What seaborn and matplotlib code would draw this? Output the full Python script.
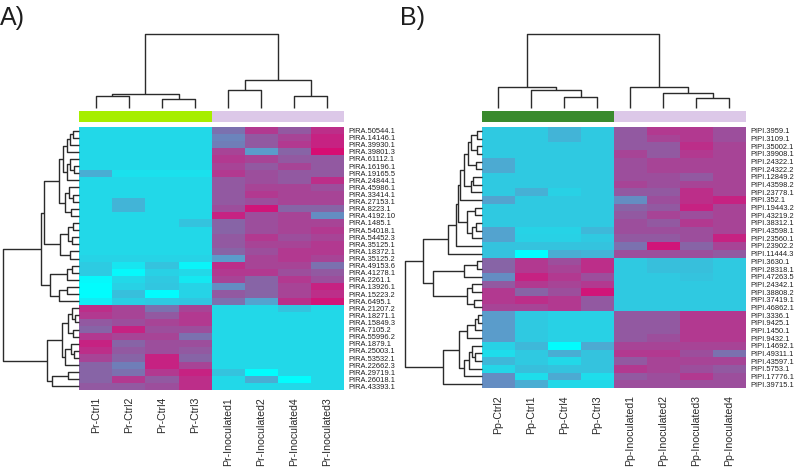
import matplotlib
matplotlib.use("Agg")
import matplotlib.pyplot as plt
from matplotlib.colors import LinearSegmentedColormap, ListedColormap
import numpy as np
import pandas as pd
import seaborn as sns

plt.rcParams['font.family'] = ['Liberation Sans', 'DejaVu Sans']

# ---- data (colour level: 0 = bright cyan ... 9 = bright magenta) ----
cols_a = ['Pr-Ctrl1', 'Pr-Ctrl2', 'Pr-Ctrl4', 'Pr-Ctrl3',
          'Pr-Inoculated1', 'Pr-Inoculated2', 'Pr-Inoculated4', 'Pr-Inoculated3']
groups_a = [0, 0, 0, 0, 1, 1, 1, 1]
rows_a = ['PIRA.50544.1', 'PIRA.14146.1', 'PIRA.39930.1', 'PIRA.39801.3', 'PIRA.61112.1',
          'PIRA.16196.1', 'PIRA.19165.5', 'PIRA.24844.1', 'PIRA.45986.1', 'PIRA.33414.1',
          'PIRA.27153.1', 'PIRA.8223.1', 'PIRA.4192.10', 'PIRA.1485.1', 'PIRA.54018.1',
          'PIRA.54452.3', 'PIRA.35125.1', 'PIRA.18372.1', 'PIRA.35125.2', 'PIRA.49153.6',
          'PIRA.41278.1', 'PIRA.2261.1', 'PIRA.13926.1', 'PIRA.15223.2', 'PIRA.6495.1',
          'PIRA.21207.2', 'PIRA.18271.1', 'PIRA.15849.3', 'PIRA.7105.2', 'PIRA.55996.2',
          'PIRA.1879.1', 'PIRA.25003.1', 'PIRA.53532.1', 'PIRA.22662.3', 'PIRA.29719.1',
          'PIRA.26018.1', 'PIRA.43393.1']
vals_a = [
    [1, 1, 1, 1, 4.5, 7, 5.5, 7.5],
    [1, 1, 1, 1, 3.8, 5.5, 6.5, 8],
    [1, 1, 1, 1, 4, 5.5, 7, 8],
    [1, 1, 1, 1, 6.5, 3, 5, 8.8],
    [1, 1, 1, 1, 7, 6.5, 5.5, 5.5],
    [1, 1, 1, 1, 6.5, 5.5, 6.5, 5.5],
    [2.5, 0.8, 0.8, 0.8, 7, 6, 5.5, 5.5],
    [1, 1, 1, 1, 5.5, 6, 5.5, 7.5],
    [1, 1, 1, 1, 5.5, 6.5, 6.5, 6],
    [1, 1, 1, 1, 5.5, 7, 6.5, 6.5],
    [1, 2.3, 1, 1, 5.5, 6, 6.5, 6.5],
    [1, 2.3, 1, 1, 6, 8.5, 5, 5],
    [1, 1, 1, 1, 8, 6, 6.5, 3.5],
    [1, 1, 1, 1.8, 5, 6, 6.5, 6.5],
    [1, 1, 1, 1, 5, 6, 6.5, 7],
    [1, 1, 1, 1, 5.5, 7, 6, 6.5],
    [1, 1, 1, 1, 5.5, 6.5, 6.5, 7],
    [1, 1, 1, 1, 5, 6, 7, 7],
    [1.2, 1.2, 1.2, 1.2, 3, 6.5, 7, 6.5],
    [1.5, 0.7, 1.8, 0.3, 7.5, 6.5, 6.5, 4.5],
    [1.5, 0.2, 1.3, 1, 7, 7, 6, 5.5],
    [0.2, 1, 1.6, 0.6, 6.5, 5, 7, 6],
    [0.1, 1.3, 1.7, 1.2, 3.5, 5, 6.5, 8],
    [0.1, 2, 0.1, 1.2, 5.5, 5, 6.5, 7.5],
    [0.5, 1.4, 1.6, 1.7, 4.5, 2.8, 7.5, 8.5],
    [7.5, 6.5, 4.5, 6.5, 1, 1, 1.8, 1],
    [7, 6.5, 5.5, 7, 1, 1, 1, 1],
    [5.5, 6, 6.5, 7, 1, 1, 1, 1],
    [5, 8, 6, 6, 1, 1, 1, 1],
    [7, 6.5, 6.5, 4.5, 1, 1, 1, 1],
    [8, 5, 6, 6, 1, 1, 1, 1],
    [7.5, 5.5, 6, 5.5, 1, 1, 1, 1],
    [6.5, 5, 8, 5, 1, 1, 1, 1],
    [5, 4, 8, 6.5, 1, 1, 1, 1],
    [5, 4.5, 7, 8, 1.8, 0.1, 1, 1],
    [5, 7, 5.5, 7.5, 1, 2.5, 0.1, 1],
    [5.5, 5.5, 6, 7.5, 1, 1, 1, 1],
]

cols_b = ['Pp-Ctrl2', 'Pp-Ctrl1', 'Pp-Ctrl4', 'Pp-Ctrl3',
          'Pp-Inoculated1', 'Pp-Inoculated2', 'Pp-Inoculated3', 'Pp-Inoculated4']
groups_b = [0, 0, 0, 0, 1, 1, 1, 1]
rows_b = ['PIPI.3959.1', 'PIPI.3109.1', 'PIPI.35002.1', 'PIPI.39908.1', 'PIPI.24322.1',
          'PIPI.24322.2', 'PIPI.12849.2', 'PIPI.43598.2', 'PIPI.23778.1', 'PIPI.352.1',
          'PIPI.19443.2', 'PIPI.43219.2', 'PIPI.38312.1', 'PIPI.43598.1', 'PIPI.23560.1',
          'PIPI.23902.2', 'PIPI.11444.3', 'PIPI.3630.1', 'PIPI.28318.1', 'PIPI.47263.5',
          'PIPI.24342.1', 'PIPI.38808.2', 'PIPI.37419.1', 'PIPI.46862.1', 'PIPI.3336.1',
          'PIPI.9425.1', 'PIPI.1450.1', 'PIPI.9432.1', 'PIPI.14692.1', 'PIPI.49311.1',
          'PIPI.43597.1', 'PIPI.5753.1', 'PIPI.17776.1', 'PIPI.39715.1']
vals_b = [
    [1.6, 1.6, 2.3, 1.6, 5.5, 7, 7, 6],
    [1.6, 1.6, 2.3, 1.6, 5.5, 6.5, 7, 6],
    [1.6, 1.6, 1.6, 1.6, 5.5, 5.5, 7.5, 6.5],
    [1.6, 1.6, 1.6, 1.6, 6.5, 5.5, 7, 6.5],
    [2.6, 1.6, 1.6, 1.6, 6, 6.5, 6.5, 6.5],
    [2.6, 1.6, 1.6, 1.6, 6, 6.5, 6.5, 6.5],
    [1.6, 1.6, 1.6, 1.6, 6, 6, 5.5, 6.5],
    [1.6, 1.6, 1.6, 1.6, 6.5, 6, 6.5, 6.5],
    [1.6, 2.4, 1.3, 1.6, 5.5, 5.5, 7.5, 6.5],
    [2.8, 1.6, 1.6, 1.6, 3.5, 6, 7.5, 8],
    [1.6, 1.6, 1.6, 1.6, 5, 5.5, 8, 6.5],
    [1.6, 1.6, 1.6, 1.6, 5.5, 6.5, 6, 6.5],
    [1.6, 1.6, 1.6, 1.6, 6, 5.5, 7, 6.5],
    [2.8, 1.2, 1.2, 2.2, 6, 6, 6, 6.5],
    [2.8, 1.3, 1.3, 1.6, 5.5, 5.5, 6, 8],
    [1.8, 1.8, 1.8, 1.8, 4.5, 8.5, 5, 6.5],
    [1.8, 0, 2.5, 2.3, 6, 6, 6, 5.5],
    [5, 7, 6, 7.5, 1.6, 2, 2, 1.6],
    [5, 7, 6.5, 7.5, 1.6, 2, 2, 1.6],
    [3.5, 8, 7, 6, 1.6, 1.6, 1.8, 1.6],
    [5.5, 7, 6.5, 7, 1.6, 1.6, 1.6, 1.6],
    [7, 5, 6, 8.5, 1.6, 1.6, 1.6, 1.6],
    [7, 7.5, 7, 5.5, 1.6, 1.6, 1.6, 1.6],
    [6.5, 6.5, 7, 5.5, 1.6, 1.6, 1.6, 1.6],
    [3, 1.6, 1.3, 1.3, 5.5, 5.5, 7, 7],
    [3, 1.6, 1.3, 1.3, 5.5, 5.5, 7, 7],
    [3, 1.6, 1.3, 1.3, 5.5, 5.5, 7, 7],
    [3, 1.6, 1.3, 1.3, 5.5, 6, 7, 7],
    [1.3, 2.2, 0.1, 2.6, 6.5, 6.5, 6.5, 6.5],
    [0.9, 1.6, 2.5, 1.8, 7, 7, 6, 4.5],
    [2.2, 1.6, 1, 1.8, 5.5, 6.5, 6.5, 6.5],
    [1.1, 2, 1.8, 1.8, 7, 6.5, 6, 5.5],
    [3.5, 0.9, 2.6, 0.9, 5.5, 6, 7, 6],
    [3.5, 2.5, 1, 1, 6, 6, 6, 6],
]

# dendrogram trees: (left, right, merge height), leaves = display index
coltree_a = (((0, 1, 11.7), (2, 3, 9.3), 14), ((4, 5, 18.3), (6, 7, 11.7), 28.3), 74)
coltree_b = ((0, (1, (2, 3, 11), 17.7), 21), (4, (5, (6, 7, 10), 15), 21), 74)

a0_3 = (((0, 1, 6), 2, 9), 3, 12)
a4_7 = ((4, (5, 6, 5), 9), 7, 12)
a8_12 = ((8, (9, 10, 6), 10), (11, 12, 8), 14)
a13_18 = (((13, 14, 6), (15, 16, 7), 11), (17, 18, 9), 19)
a0_18 = (((a0_3, a4_7, 16), a8_12, 20), a13_18, 35)
a19_24 = (((19, 20, 7), 21, 12), ((22, 23, 12), 24, 20), 29)
a25_33 = (((25, (26, 27, 4), 7), (28, 29, 6), 11), ((30, (31, 32, 5), 8), 33, 14), 17)
a34_36 = ((34, 35, 11), 36, 27)
rowtree_a = ((a0_18, a19_24, 38.5), (a25_33, a34_36, 32.3), 76)

b0_8 = ((((0, 1, 4.3), (2, 3, 4.3), 10.7), (4, 5, 6), 13.3), ((6, 7, 8.3), 8, 11), 17.7)
b10_14 = ((10, 11, 7), ((12, 13, 6), 14, 10), 15)
b0_16 = ((((b0_8, 9, 21.7), b10_14, 23.3), 15, 25.7), 16, 33.3)
b17_23 = (((17, 18, 5), 19, 18), ((20, 21, 10), (22, 23, 8), 15), 48.3)
b24_27 = (((24, 25, 4), 26, 7), 27, 15)
b28_32 = (((28, (29, 30, 7), 10), 31, 13), 32, 18)
b24_33 = ((b24_27, b28_32, 23), 33, 38.3)
rowtree_b = ((b0_16, b17_23, 59), b24_33, 76.7)

cmap = LinearSegmentedColormap.from_list('cy_mag', [
    '#00FFFF', '#22D8E8', '#38BEDC', '#5A9CCB', '#6F7EB8',
    '#8764A6', '#9C4E9C', '#B23A90', '#C62282', '#DA0870'])
LINE = '#2b2b2b'


def draw_tree(ax, node, orient):
    # returns (leaf-axis position, height)
    if isinstance(node, int):
        return node + 0.5, 0.0
    left, right, h = node
    p1, h1 = draw_tree(ax, left, orient)
    p2, h2 = draw_tree(ax, right, orient)
    a = [p1, p1, p2, p2]
    b = [h1, h, h, h2]
    if orient == 'top':
        ax.plot(a, b, color=LINE, lw=1.0, clip_on=False, solid_capstyle='butt')
    else:
        ax.plot(b, a, color=LINE, lw=1.0, clip_on=False, solid_capstyle='butt')
    return (p1 + p2) / 2, h


def panel(fig, x0, x1, y_top, y_bot, rdx0, cols, rows, vals, groups, gcolor, coltree, rowtree):
    W, H = 794, 472
    ncol, nrow = len(cols), len(rows)
    # heatmap
    ax = fig.add_axes([x0 / W, 1 - y_bot / H, (x1 - x0) / W, (y_bot - y_top) / H])
    df = pd.DataFrame(vals, index=rows, columns=cols)
    sns.heatmap(df, ax=ax, cmap=cmap, vmin=0, vmax=9, cbar=False,
                xticklabels=True, yticklabels=True, linewidths=0)
    ax.yaxis.tick_right()
    ax.tick_params(axis='y', length=0, pad=3, labelsize=5.4, labelcolor='#1e1e1e')
    ax.tick_params(axis='x', length=0, pad=5, labelsize=7.6, labelcolor='#2a2a2a')
    plt.setp(ax.get_yticklabels(), rotation=0)
    plt.setp(ax.get_xticklabels(), rotation=90)
    # group colour strip
    axc = fig.add_axes([x0 / W, 1 - 122 / H, (x1 - x0) / W, 11 / H])
    sns.heatmap(np.array([groups]), ax=axc, cmap=ListedColormap(gcolor), cbar=False,
                xticklabels=False, yticklabels=False, linewidths=0)
    # column dendrogram
    axd = fig.add_axes([x0 / W, 1 - 108 / H, (x1 - x0) / W, 74 / H])
    draw_tree(axd, coltree, 'top')
    axd.set_xlim(0, ncol)
    axd.set_ylim(0, coltree[2])
    axd.axis('off')
    # row dendrogram
    axr = fig.add_axes([rdx0 / W, 1 - y_bot / H, (x0 - rdx0) / W, (y_bot - y_top) / H])
    draw_tree(axr, rowtree, 'left')
    axr.set_ylim(nrow, 0)
    axr.set_xlim(rowtree[2], 0)
    axr.axis('off')


fig = plt.figure(figsize=(7.94, 4.72), dpi=100)

panel(fig, 79.3, 344, 127, 390, 3, cols_a, rows_a, vals_a, groups_a,
      ['#A6EE00', '#DCC8E8'], coltree_a, rowtree_a)
panel(fig, 481.7, 746, 127, 388, 405, cols_b, rows_b, vals_b, groups_b,
      ['#3A8A2E', '#DCC8E8'], coltree_b, rowtree_b)

fig.text(0 / 794, 1 - 6 / 472, 'A)', fontsize=18, va='top', ha='left', color='#1e1e1e')
fig.text(400 / 794, 1 - 6 / 472, 'B)', fontsize=18, va='top', ha='left', color='#1e1e1e')

fig.savefig('out.png', dpi=100)
